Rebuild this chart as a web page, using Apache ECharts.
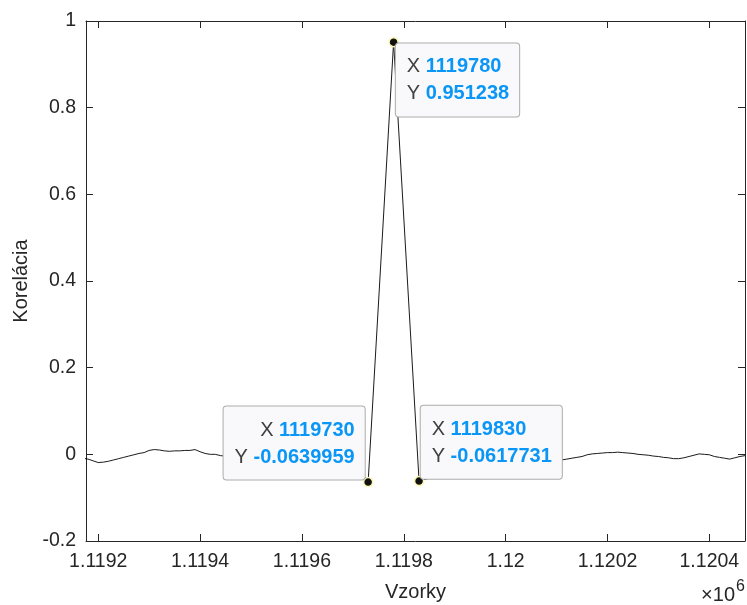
<!DOCTYPE html>
<html>
<head>
<meta charset="utf-8">
<title>Korelácia</title>
<script src="https://cdn.jsdelivr.net/npm/echarts@6.0.0/dist/echarts.min.js"></script>
<style>
  html, body { margin: 0; padding: 0; background: #fff; }
  #chart { width: 747px; height: 605px; }
</style>
</head>
<body>
<div id="chart"></div>
<script>
// vzorky (x) a korelacia (y), odcitane z obrazka
var xs = [
  1119170, 1119180, 1119190, 1119200, 1119210, 1119220, 1119230, 1119240, 1119250, 1119260,
  1119270, 1119280, 1119290, 1119300, 1119310, 1119320, 1119330, 1119340, 1119350, 1119360,
  1119370, 1119380, 1119390, 1119400, 1119410, 1119420, 1119430, 1119440, 1119450, 1119470,
  1119500, 1119530, 1119560, 1119590, 1119620, 1119650, 1119680, 1119700,
  1119730, 1119780, 1119830,
  1119880, 1119930, 1119980, 1120020, 1120060, 1120090, 1120110, 1120120, 1120130, 1120140,
  1120150, 1120160, 1120170, 1120180, 1120190, 1120200, 1120210, 1120220, 1120230, 1120240,
  1120250, 1120260, 1120270, 1120280, 1120290, 1120300, 1120310, 1120320, 1120330, 1120340,
  1120350, 1120360, 1120370, 1120380, 1120390, 1120400, 1120410, 1120420, 1120430, 1120440,
  1120450, 1120460, 1120470
];
var ys = [
  -0.009, -0.011, -0.015, -0.019, -0.018, -0.016, -0.013, -0.010, -0.007, -0.004,
  -0.001, 0.002, 0.004, 0.009, 0.011, 0.010, 0.008, 0.007, 0.008, 0.008,
  0.009, 0.009, 0.011, 0.006, 0.002, 0.000, 0.000, -0.003, -0.004, -0.003,
  0.000, 0.002, 0.001, -0.002, -0.001, 0.000, -0.004, -0.010,
  -0.0639959, 0.951238, -0.0617731,
  -0.045, -0.024, -0.012, -0.007, -0.009, -0.012, -0.013, -0.011, -0.009, -0.007,
  -0.005, -0.001, 0.001, 0.002, 0.003, 0.004, 0.004, 0.005, 0.004, 0.003,
  0.002, 0.000, -0.001, -0.002, -0.004, -0.005, -0.007, -0.008, -0.010, -0.010,
  -0.008, -0.005, -0.002, 0.001, 0.000, -0.001, -0.005, -0.007, -0.009, -0.011,
  -0.008, -0.005, -0.003
];

// data tipy
var tipX = [1119730, 1119780, 1119830];
var tipY = [-0.0639959, 0.951238, -0.0617731];
var tipAlign = ['right', 'left', 'left'];
var tipVAlign = ['bottom', 'top', 'bottom'];
var tipPos = [[1.8, 2.8], [7.5, 6.5], [6.9, 2.8]];

var xMin = 1119176, xMax = 1120470;
var textColor = '#262626';
var font = 'Liberation Sans, Arial, Helvetica, sans-serif';

var lineData = [];
for (var i = 0; i < xs.length; i++) {
  lineData.push([xs[i], ys[i]]);
}

var tips = [];
for (var j = 0; j < tipX.length; j++) {
  tips.push({
    coord: [tipX[j], tipY[j]],
    label: {
      show: true,
      position: tipPos[j],
      align: tipAlign[j],
      verticalAlign: tipVAlign[j],
      formatter: '{k|X} {v|' + tipX[j] + '}\n{k|Y} {v|' + tipY[j] + '}',
      backgroundColor: '#f9f9fc',
      borderColor: '#acacac',
      borderWidth: 1,
      borderRadius: 3,
      padding: [10, 10, 9, 11],
      lineHeight: 27,
      fontFamily: font,
      fontSize: 20,
      rich: {
        k: { color: '#404040', fontSize: 20, fontFamily: font, lineHeight: 27 },
        v: { color: '#0a96f6', fontSize: 20, fontWeight: 'bold', fontFamily: font, lineHeight: 27 }
      }
    }
  });
}

function tickFmt(v) {
  return String(+(v / 1e6).toFixed(4));
}

var xCommon = {
  type: 'value',
  min: xMin,
  max: xMax,
  splitNumber: 6,
  minInterval: 200,
  maxInterval: 200,
  axisLine: { show: true, onZero: false, lineStyle: { color: textColor, width: 1 } },
  axisTick: { show: true, inside: true, length: 7, lineStyle: { color: textColor } },
  splitLine: { show: false }
};
var yCommon = {
  type: 'value',
  min: -0.2,
  max: 1,
  interval: 0.2,
  axisLine: { show: true, onZero: false, lineStyle: { color: textColor, width: 1 } },
  axisTick: { show: true, inside: true, length: 7, lineStyle: { color: textColor } },
  splitLine: { show: false }
};

var option = {
  animation: false,
  backgroundColor: '#fff',
  grid: { left: 86, right: 2, top: 21, bottom: 64, containLabel: false, outerBoundsMode: 'none' },
  xAxis: [
    Object.assign({}, xCommon, {
      position: 'bottom',
      name: 'Vzorky',
      nameLocation: 'middle',
      nameGap: 41,
      nameTextStyle: { color: textColor, fontSize: 20, fontFamily: font },
      axisLabel: { show: true, margin: 11, color: textColor, fontSize: 19.5, fontFamily: font, formatter: tickFmt }
    }),
    Object.assign({}, xCommon, { position: 'top', axisLabel: { show: false } })
  ],
  yAxis: [
    Object.assign({}, yCommon, {
      position: 'left',
      name: 'Korelácia',
      nameLocation: 'middle',
      nameGap: 51,
      nameTextStyle: { color: textColor, fontSize: 20, fontFamily: font },
      axisLabel: { show: true, margin: 10, color: textColor, fontSize: 19.5, fontFamily: font }
    }),
    Object.assign({}, yCommon, { position: 'right', axisLabel: { show: false } })
  ],
  graphic: [
    {
      type: 'text', x: 735, y: 595,
      style: { text: '×10', fill: textColor, font: '20px ' + font, align: 'right', verticalAlign: 'middle' }
    },
    {
      type: 'text', x: 745, y: 587,
      style: { text: '6', fill: textColor, font: '16px ' + font, align: 'right', verticalAlign: 'middle' }
    }
  ],
  series: [
    {
      type: 'line',
      data: lineData,
      showSymbol: false,
      clip: true,
      lineStyle: { color: '#000', width: 0.9 },
      markPoint: {
        symbol: 'circle',
        symbolSize: 9,
        itemStyle: { color: '#111', borderColor: '#fbf7b0', borderWidth: 1.5 },
        data: tips
      }
    }
  ]
};

var myChart = echarts.init(document.getElementById('chart'));
myChart.setOption(option);
</script>
</body>
</html>
